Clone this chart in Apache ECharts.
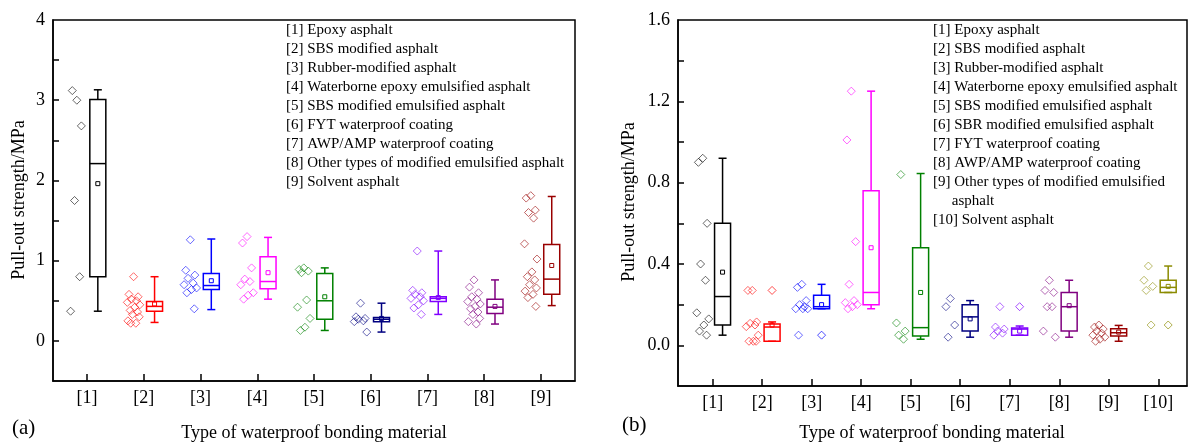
<!DOCTYPE html>
<html><head><meta charset="utf-8">
<script src="https://cdn.jsdelivr.net/npm/echarts@6/dist/echarts.min.js"></script>
<style>html,body{margin:0;padding:0;background:#fff}#c{width:1196px;height:448px}</style>
</head><body><div id="c"></div><script>
// ---------- Panel (a) data ----------
const categoriesA = ['[1]','[2]','[3]','[4]','[5]','[6]','[7]','[8]','[9]'];
const legendA = [
  '[1] Epoxy asphalt',
  '[2] SBS modified asphalt',
  '[3] Rubber-modified asphalt',
  '[4] Waterborne epoxy emulsified asphalt',
  '[5] SBS modified emulsified asphalt',
  '[6] FYT waterproof coating',
  '[7] AWP/AMP waterproof coating',
  '[8] Other types of modified emulsified asphalt',
  '[9] Solvent asphalt'
];
const minA  = [0.37, 0.23, 0.39, 0.52, 0.13, 0.11, 0.33, 0.21, 0.44];
const q1A   = [0.80, 0.37, 0.64, 0.65, 0.27, 0.24, 0.49, 0.34, 0.58];
const medA  = [2.21, 0.43, 0.69, 0.74, 0.50, 0.27, 0.53, 0.42, 0.77];
const q3A   = [3.01, 0.49, 0.84, 1.05, 0.84, 0.29, 0.55, 0.52, 1.20];
const maxA  = [3.13, 0.80, 1.27, 1.29, 0.91, 0.47, 1.12, 0.76, 1.80];
const meanA = [1.96, 0.46, 0.75, 0.85, 0.55, 0.28, 0.54, 0.43, 0.94];
const pointsA = [
  [3.00, 3.12, 2.68, 1.75, 0.80, 0.37],
  [0.80, 0.58, 0.55, 0.52, 0.50, 0.48, 0.45, 0.42, 0.38, 0.36, 0.33, 0.30, 0.25, 0.22, 0.22],
  [1.26, 0.88, 0.82, 0.78, 0.72, 0.70, 0.66, 0.64, 0.60, 0.40],
  [1.30, 1.22, 0.91, 0.77, 0.74, 0.70, 0.60, 0.57, 0.52],
  [0.91, 0.89, 0.87, 0.85, 0.51, 0.42, 0.28, 0.17, 0.13],
  [0.47, 0.30, 0.28, 0.27, 0.25, 0.24, 0.11],
  [1.12, 0.63, 0.60, 0.58, 0.55, 0.53, 0.50, 0.45, 0.41, 0.33],
  [0.76, 0.67, 0.60, 0.55, 0.52, 0.49, 0.46, 0.43, 0.40, 0.36, 0.33, 0.28, 0.24, 0.21],
  [1.81, 1.78, 1.63, 1.60, 1.53, 1.21, 1.02, 0.86, 0.80, 0.76, 0.70, 0.66, 0.62, 0.58, 0.54, 0.43]
];
const yLabelsA = [0, 1, 2, 3, 4];
const yTicksA = [0, 0.5, 1, 1.5, 2, 2.5, 3, 3.5];

// ---------- Panel (b) data ----------
const categoriesB = ['[1]','[2]','[3]','[4]','[5]','[6]','[7]','[8]','[9]','[10]'];
const legendB = [
  '[1] Epoxy asphalt',
  '[2] SBS modified asphalt',
  '[3] Rubber-modified asphalt',
  '[4] Waterborne epoxy emulsified asphalt',
  '[5] SBS modified emulsified asphalt',
  '[6] SBR modified emulsified asphalt',
  '[7] FYT waterproof coating',
  '[8] AWP/AMP waterproof coating',
  '[9] Other types of modified emulsified',
  '     asphalt',
  '[10] Solvent asphalt'
];
const minB  = [0.05, 0.02, 0.18, 0.18, 0.03, 0.04, 0.05, 0.04, 0.02, 0.26];
const q1B   = [0.10, 0.02, 0.18, 0.20, 0.046, 0.07, 0.05, 0.07, 0.046, 0.26];
const medB  = [0.24, 0.09, 0.19, 0.26, 0.087, 0.14, 0.08, 0.19, 0.062, 0.285];
const q3B   = [0.60, 0.105, 0.246, 0.76, 0.48, 0.20, 0.085, 0.26, 0.082, 0.32];
const maxB  = [0.92, 0.115, 0.30, 1.25, 0.845, 0.22, 0.095, 0.32, 0.098, 0.39];
const meanB = [0.36, 0.10, 0.20, 0.48, 0.26, 0.13, 0.07, 0.195, 0.065, 0.29];
const pointsB = [
  [0.92, 0.90, 0.60, 0.40, 0.32, 0.16, 0.13, 0.10, 0.07, 0.05],
  [0.27, 0.27, 0.115, 0.108, 0.10, 0.092, 0.05, 0.02, 0.02, 0.02],
  [0.30, 0.285, 0.22, 0.20, 0.19, 0.18, 0.18, 0.18, 0.05],
  [1.25, 1.01, 0.51, 0.30, 0.22, 0.21, 0.20, 0.19, 0.18],
  [0.84, 0.11, 0.07, 0.05, 0.03],
  [0.23, 0.19, 0.10, 0.04],
  [0.19, 0.09, 0.08, 0.07, 0.06, 0.05],
  [0.32, 0.27, 0.26, 0.19, 0.19, 0.07, 0.04],
  [0.10, 0.09, 0.08, 0.07, 0.06, 0.05, 0.04, 0.03, 0.02],
  [0.39, 0.32, 0.29, 0.27, 0.10]
];
const outlierCatB = [2, 3, 7, 10];
const outlierValB = [0.27, 0.05, 0.19, 0.10];
const yLabelsB = [0, 0.4, 0.8, 1.2, 1.6];
const yTicksB = [0, 0.2, 0.4, 0.6, 0.8, 1.0, 1.2, 1.4];

const xTitle = 'Type of waterproof bonding material';
const yTitle = 'Pull-out strength/MPa';

// ---------- styles ----------
const colorsA = ['#000000','#ff0000','#0000ff','#ff00ff','#008000','#000080','#8000ff','#800080','#990000'];
const colorsB = ['#000000','#ff0000','#0000ff','#ff00ff','#008000','#000080','#8000ff','#800080','#990000','#8b8b00'];
const FONT = 'Liberation Serif';
const JITTER = [0, -0.08, 0.08, -0.04, 0.05, -0.11, 0.11, 0.02, -0.06, 0.07, -0.02, 0.10, -0.10, 0.04, -0.05, 0.09];

function makeRender(colors, boxW, capW) {
  return function (params, api) {
    const x = api.value(0);
    const p = k => api.coord([x, api.value(k)]);
    const lo = p(1), q1 = p(2), md = p(3), q3 = p(4), hi = p(5), mn = p(6);
    const cx = lo[0];
    const c = colors[params.dataIndex];
    const st = {stroke: c, lineWidth: 1.5, fill: 'none'};
    return {type: 'group', children: [
      {type: 'rect', shape: {x: cx - boxW/2, y: q3[1], width: boxW, height: Math.max(q1[1] - q3[1], 0.5)}, style: st},
      {type: 'line', shape: {x1: cx - boxW/2, y1: md[1], x2: cx + boxW/2, y2: md[1]}, style: st},
      {type: 'line', shape: {x1: cx, y1: q3[1], x2: cx, y2: hi[1]}, style: st},
      {type: 'line', shape: {x1: cx, y1: q1[1], x2: cx, y2: lo[1]}, style: st},
      {type: 'line', shape: {x1: cx - capW/2, y1: hi[1], x2: cx + capW/2, y2: hi[1]}, style: st},
      {type: 'line', shape: {x1: cx - capW/2, y1: lo[1], x2: cx + capW/2, y2: lo[1]}, style: st},
      {type: 'rect', shape: {x: cx - 2, y: mn[1] - 2, width: 4, height: 4}, style: {stroke: c, lineWidth: 1, fill: 'none'}}
    ]};
  };
}

function buildSeries(idx, n, mins, q1s, meds, q3s, maxs, means, points, colors, boxOff, ptOff, spread, boxW) {
  const boxData = [];
  for (let i = 0; i < n; i++) boxData.push([i + 1 + boxOff, mins[i], q1s[i], meds[i], q3s[i], maxs[i], means[i]]);
  const series = [{
    type: 'custom', xAxisIndex: idx, yAxisIndex: idx,
    renderItem: makeRender(colors, boxW, 8),
    encode: {x: 0, y: [1, 2, 3, 4, 5, 6]},
    data: boxData
  }];
  points.forEach((arr, i) => {
    series.push({
      type: 'scatter', xAxisIndex: idx, yAxisIndex: idx, symbol: 'diamond', symbolSize: 8,
      itemStyle: {color: 'rgba(0,0,0,0)', borderColor: colors[i], borderWidth: 1, opacity: 0.6},
      data: arr.map((v, k) => [i + 1 + ptOff + JITTER[k % JITTER.length] * spread, v])
    });
  });
  return series;
}

function xAxis(idx, min, max, cats) {
  const vals = cats.map((_, i) => i + 1);
  return {
    type: 'value', gridIndex: idx, min: min, max: max, z: 10,
    axisLine: {show: true, onZero: false, lineStyle: {color: '#000', width: 1.5}},
    axisTick: {show: true, inside: true, length: 7, customValues: vals.slice(), lineStyle: {color: '#000', width: 1.5}},
    axisLabel: {customValues: vals.slice(), margin: 8, formatter: '[{value}]', color: '#000', fontFamily: FONT, fontSize: 18},
    splitLine: {show: false}
  };
}
function yAxis(idx, min, max, ticks, labels, fmt) {
  return {
    type: 'value', gridIndex: idx, min: min, max: max, z: 10,
    axisLine: {show: true, onZero: false, lineStyle: {color: '#000', width: 1.5}},
    axisTick: {show: true, inside: true, length: 6, customValues: ticks.slice(), lineStyle: {color: '#000', width: 1.5}},
    axisLabel: {customValues: labels.slice(), margin: 8, formatter: fmt, color: '#000', fontFamily: FONT, fontSize: 18},
    splitLine: {show: false}
  };
}

const graphics = [];
legendA.forEach((t, i) => graphics.push({type: 'text', left: 286, top: 23 + i * 19, style: {text: t, fill: '#000', font: '15px "' + FONT + '"'}}));
legendB.forEach((t, i) => graphics.push({type: 'text', left: 933, top: 23 + i * 19, style: {text: t, fill: '#000', font: '15px "' + FONT + '"'}}));
graphics.push({type: 'text', left: 12, top: 418, style: {text: '(a)', fill: '#000', font: '21px "' + FONT + '"'}});
graphics.push({type: 'text', left: 622, top: 415, style: {text: '(b)', fill: '#000', font: '21px "' + FONT + '"'}});
graphics.push({type: 'text', x: 314, y: 433, style: {text: xTitle, fill: '#000', font: '18px "' + FONT + '"', align: 'center', verticalAlign: 'middle'}});
graphics.push({type: 'text', x: 932, y: 433, style: {text: xTitle, fill: '#000', font: '18px "' + FONT + '"', align: 'center', verticalAlign: 'middle'}});
graphics.push({type: 'text', x: 19, y: 200, rotation: Math.PI / 2, style: {text: yTitle, fill: '#000', font: '18px "' + FONT + '"', align: 'center', verticalAlign: 'middle'}});
graphics.push({type: 'text', x: 629, y: 202, rotation: Math.PI / 2, style: {text: yTitle, fill: '#000', font: '18px "' + FONT + '"', align: 'center', verticalAlign: 'middle'}});

const series = [].concat(
  buildSeries(0, 9, minA, q1A, medA, q3A, maxA, meanA, pointsA, colorsA, 0.19, -0.18, 1.0, 16),
  buildSeries(1, 10, minB, q1B, medB, q3B, maxB, meanB, pointsB, colorsB, 0.2, -0.2, 1.1, 16)
);
series.push({
  type: 'scatter', xAxisIndex: 1, yAxisIndex: 1, symbol: 'diamond', symbolSize: 8,
  itemStyle: {color: 'rgba(0,0,0,0)', borderWidth: 1, opacity: 0.7},
  data: outlierCatB.map((c, i) => ({value: [c + 0.2, outlierValB[i]], itemStyle: {borderColor: colorsB[c - 1]}}))
});

const chart = echarts.init(document.getElementById('c'), null, {renderer: 'canvas'});
chart.setOption({
  animation: false,
  grid: [
    {left: 53, top: 20, width: 522, height: 361, show: true, borderColor: '#000', borderWidth: 1.5},
    {left: 678, top: 20, width: 509, height: 366, show: true, borderColor: '#000', borderWidth: 1.5}
  ],
  xAxis: [xAxis(0, 0.4, 9.6, categoriesA), xAxis(1, 0.3, 10.58, categoriesB)],
  yAxis: [
    yAxis(0, -0.5, 4, yTicksA, yLabelsA, '{value}'),
    yAxis(1, -0.2, 1.6, yTicksB, yLabelsB, v => v.toFixed(1))
  ],
  graphic: graphics,
  series: series
});
</script></body></html>
